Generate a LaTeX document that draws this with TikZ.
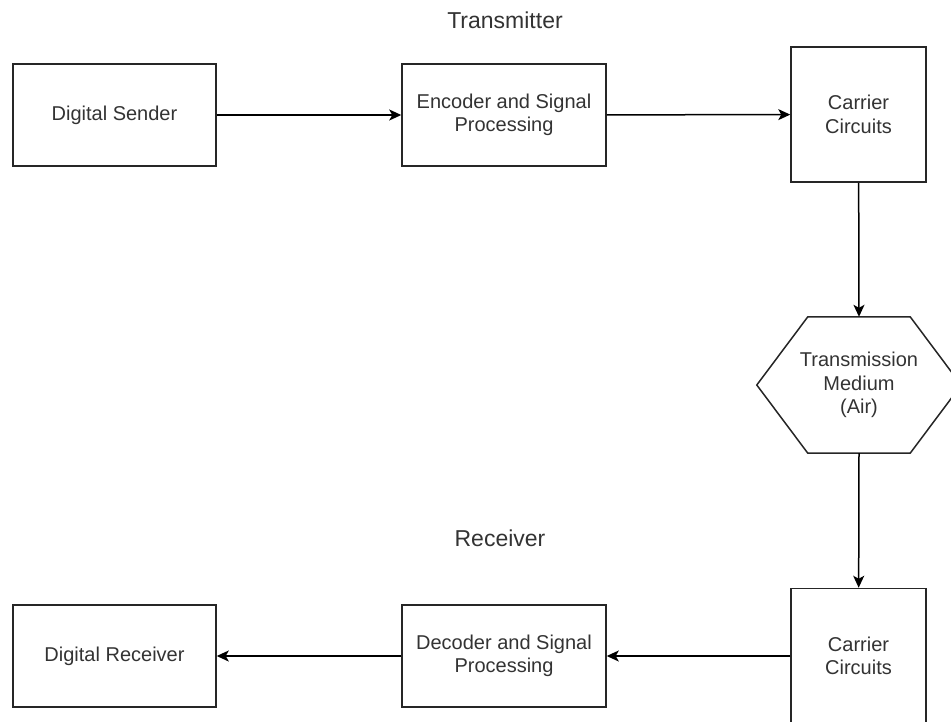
\documentclass[tikz,border=0pt]{standalone}
\usepackage{fontspec}
\setmainfont{Liberation Sans}
\usetikzlibrary{arrows.meta,calc}

\tikzset{
  block/.style={draw=black!85, line width=1.5pt, fill=white, align=center,
    font=\fontsize{20}{23.5}\selectfont, text=black!80, inner sep=0pt},
  flow/.style={draw=black, line width=1.5pt,
    -{Stealth[length=12pt,width=11pt,inset=3pt]}},
  title/.style={font=\fontsize{23}{27}\selectfont, text=black!80}
}

\begin{document}
\begin{tikzpicture}[x=1pt,y=-1pt]
  \useasboundingbox (0,0) rectangle (951,721);

  % section labels
  \node[title] (tx) at (505,20) {Transmitter};
  \node[title] (rx) at (500,538) {Receiver};

  % transmitter chain
  \node[block, minimum width=203pt, minimum height=102pt] (sender) at (114.5,115) {Digital Sender};
  \node[block, minimum width=204pt, minimum height=102pt] (encoder) at (504,115) {Encoder and Signal\\Processing};
  \node[block, minimum width=135pt, minimum height=135pt] (carrierA) at (858.5,114.5) {Carrier\\Circuits};

  % channel (hexagon outline drawn around a bare node)
  \node[align=center, font=\fontsize{20}{23.5}\selectfont, text=black!80,
        minimum width=204pt, minimum height=136pt, inner sep=0pt] (medium) at (859,385)
        {Transmission\\Medium\\(Air)};
  \draw[black!85, line width=1.5pt]
    (medium.west) -- ($(medium.north west)+(51,0)$) -- ($(medium.north east)+(-51,0)$)
    -- (medium.east) -- ($(medium.south east)+(-51,0)$) -- ($(medium.south west)+(51,0)$) -- cycle;

  % receiver chain
  \node[block, minimum width=135pt, minimum height=135pt] (carrierB) at (858.5,656) {Carrier\\Circuits};
  \node[block, minimum width=204pt, minimum height=102pt] (decoder) at (504,656) {Decoder and Signal\\Processing};
  \node[block, minimum width=203pt, minimum height=102pt] (receiver) at (114.5,656) {Digital Receiver};

  % signal flow
  \draw[flow] (sender) -- (encoder);
  \draw[flow] (encoder) -- (carrierA);
  \draw[flow] (carrierA) -- (medium.north);
  \draw[flow] (medium.south) -- (carrierB);
  \draw[flow] (carrierB) -- (decoder);
  \draw[flow] (decoder) -- (receiver);
\end{tikzpicture}
\end{document}
